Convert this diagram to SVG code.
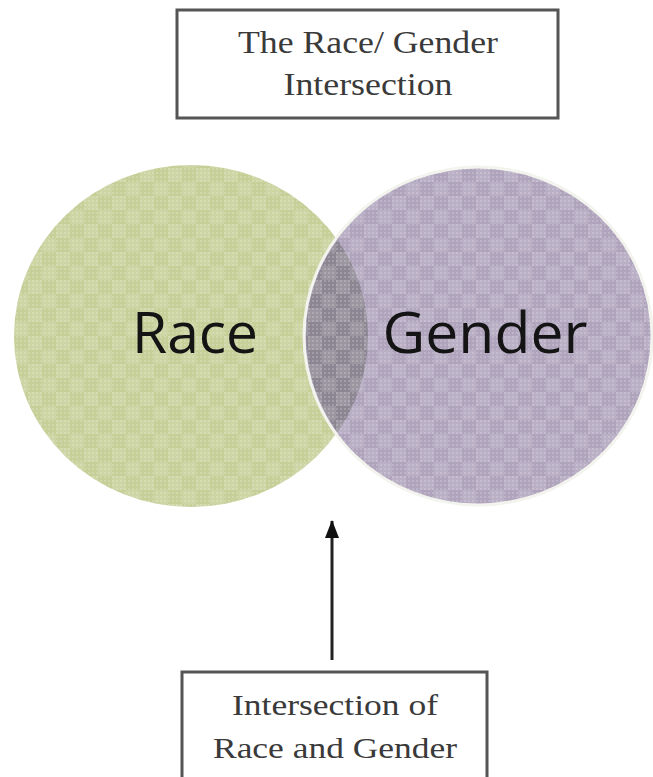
<svg xmlns="http://www.w3.org/2000/svg" width="653" height="777" viewBox="0 0 653 777">
<defs>
<pattern id="chk" width="28" height="28" patternUnits="userSpaceOnUse">
<rect x="0" y="0" width="14" height="14" fill="#ffffff" fill-opacity="0.13"/>
<rect x="14" y="14" width="14" height="14" fill="#ffffff" fill-opacity="0.13"/>
</pattern>
<pattern id="dots" width="4" height="4" patternUnits="userSpaceOnUse">
<rect x="0" y="0" width="2" height="2" fill="#ffffff" fill-opacity="0.18"/>
</pattern>
<clipPath id="clipL"><ellipse cx="191" cy="336" rx="177" ry="171"/></clipPath>
<marker id="arr" markerWidth="18" markerHeight="14" refX="17" refY="7" orient="auto" markerUnits="userSpaceOnUse">
<path d="M0,0 L18,7 L0,14 Z" fill="#111"/>
</marker>
</defs>
<style>
.box{fill:#fff;stroke:#555;stroke-width:3}
.serif{font-family:"Liberation Serif","Times New Roman",serif;fill:#3a3a3a;text-anchor:middle}
.sans{font-family:"Open Sans","Liberation Sans",sans-serif;fill:#141414;text-anchor:middle}
</style>
<rect width="653" height="777" fill="#fff"/>
<g id="title">
<rect class="box" x="177" y="10" width="381" height="108"/>
<text class="serif" x="368" y="53" font-size="31" textLength="260" lengthAdjust="spacingAndGlyphs">The Race/ Gender</text>
<text class="serif" x="368" y="95" font-size="31" textLength="169" lengthAdjust="spacingAndGlyphs">Intersection</text>
</g>
<g id="race">
<ellipse cx="191" cy="336" rx="177" ry="171" fill="#c6cf98"/>
<ellipse cx="191" cy="336" rx="177" ry="171" fill="url(#chk)"/>
<ellipse cx="191" cy="336" rx="177" ry="171" fill="url(#dots)"/>
</g>
<g id="gender">
<ellipse cx="478" cy="336" rx="174" ry="169" fill="#b0a4bd" stroke="#f3f3ee" stroke-width="3"/>
<ellipse cx="478" cy="336" rx="174" ry="169" fill="url(#chk)"/>
<ellipse cx="478" cy="336" rx="174" ry="169" fill="url(#dots)"/>
<g clip-path="url(#clipL)">
<ellipse cx="478" cy="336" rx="172" ry="167" fill="#8c8692"/>
<ellipse cx="478" cy="336" rx="172" ry="167" fill="url(#chk)"/>
<ellipse cx="478" cy="336" rx="172" ry="167" fill="url(#dots)"/>
</g>
</g>
<g id="labels">
<text class="sans" x="195" y="353" font-size="57" textLength="126" lengthAdjust="spacingAndGlyphs">Race</text>
<text class="sans" x="485" y="353" font-size="57" textLength="205" lengthAdjust="spacingAndGlyphs">Gender</text>
</g>
<g id="connectors">
<line x1="332" y1="660" x2="332" y2="521" stroke="#222" stroke-width="3" marker-end="url(#arr)"/>
</g>
<g id="intersection">
<rect class="box" x="182" y="672" width="305" height="120"/>
<text class="serif" x="335" y="715" font-size="30" textLength="206" lengthAdjust="spacingAndGlyphs">Intersection of</text>
<text class="serif" x="335" y="758" font-size="30" textLength="244" lengthAdjust="spacingAndGlyphs">Race and Gender</text>
</g>
</svg>
